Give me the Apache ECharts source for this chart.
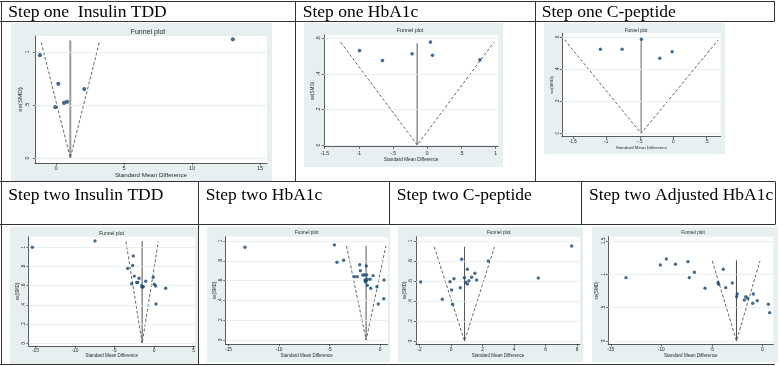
<!DOCTYPE html>
<html><head><meta charset="utf-8">
<script src="https://cdn.jsdelivr.net/npm/echarts@6/dist/echarts.min.js"></script>
<style>html,body{margin:0;padding:0;background:#fff}#c{width:780px;height:366px}</style>
</head><body><div id="c"></div>
<script>
// ---------- headers ----------
const topHeaders = ["Step one  Insulin TDD", "Step one HbA1c", "Step one C-peptide"];
const bottomHeaders = ["Step two Insulin TDD", "Step two HbA1c", "Step two C-peptide", "Step two Adjusted HbA1c"];
const plotTitle = "Funnel plot";
const xName = "Standard Mean Difference";
const yName = "se(SMD)";

// ---------- data: [SMD, se(SMD)] ----------
const p1Points = [[-1.18,0.97],[0.17,0.70],[-0.05,0.48],[0.59,0.52],[0.81,0.53],[2.08,0.65],[13.0,1.12]];
const p1Pooled = [[1.05,0],[1.05,1.11]];
const p1Funnel = [[-1.09,1.09],[1.05,0],[3.18,1.09]];
const p1XTicks = [0,5,10,15];
const p1YTicks = [0,0.5,1];

const p2Points = [[-0.99,0.531],[-0.655,0.475],[-0.222,0.513],[0.047,0.579],[0.077,0.505],[0.77,0.479]];
const p2Pooled = [[-0.148,0],[-0.148,0.573]];
const p2Funnel = [[-1.266,0.578],[-0.146,0],[0.974,0.578]];
const p2XTicks = [-1.5,-1,-0.5,0,0.5,1];
const p2YTicks = [0,0.2,0.4,0.6];

const p3Points = [[-1.089,0.525],[-0.765,0.525],[-0.475,0.5875],[-0.2,0.469],[-0.016,0.51]];
const p3Pooled = [[-0.48,0],[-0.48,0.5875]];
const p3Funnel = [[-1.625,0.584],[-0.48,0],[0.675,0.584]];
const p3XTicks = [-1.5,-1,-0.5,0,0.5];
const p3YTicks = [0,0.2,0.4,0.6];

const p4Points = [[-15.4,1.0],[-7.47,1.066],[-2.62,0.91],[-2.7,0.81],[-3.33,0.78],[-2.49,0.70],[-2.82,0.62],
  [-1.9,0.677],[-2.19,0.633],[-2.06,0.633],[-1.56,0.6],[-1.48,0.583],[-1.35,0.59],[-1.05,0.646],
  [-0.09,0.6875],[0.04,0.615],[0.21,0.597],[1.48,0.573],[0.25,0.41]];
const p4Pooled = [[-1.5,0],[-1.5,1.066]];
const p4Funnel = [[-3.55,1.06],[-1.5,0],[0.55,1.06]];
const p4XTicks = [-15,-10,-5,0,5];
const p4YTicks = [0,0.2,0.4,0.6,0.8,1];

const p5Points = [[-13.37,0.936],[-4.52,0.96],[-4.26,0.785],[-3.6,0.805],[-2.54,0.64],[-2.25,0.64],[-2.01,0.76],
  [-1.95,0.70],[-1.71,0.657],[-1.55,0.657],[-1.36,0.747],[-1.32,0.657],[-1.49,0.606],[-1.36,0.596],
  [-1.29,0.613],[-1.45,0.589],[-1.26,0.553],[-0.99,0.613],[-0.92,0.522],[-0.69,0.65],[-0.3,0.538],
  [-0.17,0.364],[0.4,0.606],[0.37,0.417]];
const p5Pooled = [[-1.38,0],[-1.38,0.95]];
const p5Funnel = [[-3.32,0.95],[-1.37,0],[0.58,0.95]];
const p5XTicks = [-15,-10,-5,0];
const p5YTicks = [0,0.2,0.4,0.6,0.8,1];

const p6Points = [[7.66,0.95],[0.68,0.817],[2.37,0.8],[1.04,0.717],[1.52,0.677],[1.31,0.637],[0.19,0.623],
  [0.85,0.633],[1.63,0.61],[1.14,0.603],[0.93,0.587],[1.04,0.57],[-0.06,0.593],[-1.92,0.59],[5.54,0.63],
  [0.04,0.51],[0.59,0.533],[-0.55,0.417],[0.1,0.367]];
const p6Pooled = [[0.86,0],[0.86,0.943]];
const p6Funnel = [[-1.06,0.94],[0.86,0],[2.76,0.94]];
const p6XTicks = [-2,0,2,4,6,8];
const p6YTicks = [0,0.2,0.4,0.6,0.8,1];

const p7Points = [[-13.5,0.95],[-10.1,1.14],[-9.5,1.23],[-8.6,1.15],[-7.36,1.19],[-6.73,1.03],[-7.23,0.95],
  [-5.67,0.79],[-3.86,1.075],[-4.39,0.875],[-4.32,0.85],[-3.62,0.8],[-2.97,0.87],[-2.48,0.705],[-2.54,0.665],
  [-1.78,0.615],[-1.64,0.665],[-1.45,0.64],[-0.95,0.565],[-0.89,0.705],[-0.5,0.605],[0.6,0.55],[0.73,0.425]];
const p7Pooled = [[-2.56,0],[-2.56,1.21]];
const p7Funnel = [[-4.95,1.2],[-2.56,0],[-0.23,1.2]];
const p7XTicks = [-15,-10,-5,0];
const p7YTicks = [0,0.5,1,1.5];

// ---------- layout (pixels) ----------
const layouts = [
 {bg:[11,23,261,158], plot:[35,36,232,127], x:[-1.544,15.51], y:[-0.047,1.151], fs:5.5, nfs:6.2, tfs:7, title:[148,32],
  xm:2, xg:7, ym:5, yg:11, sym:4.2, vc:'#9a9a9a', vw:2},
 {bg:[304,23,199,144], plot:[324,35,174.3,111.7], x:[-1.51,1.039], y:[-0.0096,0.619], fs:5, nfs:4.7, tfs:5.4, title:[410,30.7],
  xm:4.5, xg:10, ym:2.5, yg:9, sym:3.6, vc:'#555', vw:1},
 {bg:[544,23,181,131], plot:[562,33.3,158.7,103.4], x:[-1.664,0.711], y:[-0.021,0.625], fs:4.6, nfs:4.4, tfs:4.6, title:[636,30.7],
  xm:3, xg:7.8, ym:1.5, yg:8, sym:3.4, vc:'#666', vw:1},
 {bg:[10,227,188,137], plot:[28.6,236.7,166.4,109.3], x:[-15.87,5.19], y:[-0.028,1.11], fs:4.8, nfs:4.5, tfs:5, title:[111.5,233.3],
  xm:1.8, xg:7.5, ym:2.5, yg:8.7, sym:3.4, vc:'#8a8a8a', vw:1.5},
 {bg:[207,227,183,135], plot:[225.5,236.7,162.2,107.3], x:[-15.3,0.76], y:[-0.04,1.043], fs:4.8, nfs:4.5, tfs:4.8, title:[306.7,233],
  xm:3.5, xg:6.7, ym:2.5, yg:8.7, sym:3.4, vc:'#555', vw:1},
 {bg:[398,227,185,135], plot:[416,236.7,164,107.6], x:[-2.22,8.19], y:[-0.033,1.043], fs:4.8, nfs:4.5, tfs:4.8, title:[498.8,233],
  xm:3.2, xg:7.7, ym:2.5, yg:8.7, sym:3.4, vc:'#555', vw:1},
 {bg:[592,227,186,135], plot:[608.3,236.7,165,107.6], x:[-15.25,1.09], y:[-0.05,1.564], fs:4.8, nfs:4.6, tfs:4.8, title:[693,233],
  xm:3.2, xg:7.4, ym:2.5, yg:8.7, sym:3.4, vc:'#444', vw:1}
];

const panels = [
 {pts:p1Points, pooled:p1Pooled, funnel:p1Funnel, xt:p1XTicks, yt:p1YTicks},
 {pts:p2Points, pooled:p2Pooled, funnel:p2Funnel, xt:p2XTicks, yt:p2YTicks},
 {pts:p3Points, pooled:p3Pooled, funnel:p3Funnel, xt:p3XTicks, yt:p3YTicks},
 {pts:p4Points, pooled:p4Pooled, funnel:p4Funnel, xt:p4XTicks, yt:p4YTicks},
 {pts:p5Points, pooled:p5Pooled, funnel:p5Funnel, xt:p5XTicks, yt:p5YTicks},
 {pts:p6Points, pooled:p6Pooled, funnel:p6Funnel, xt:p6XTicks, yt:p6YTicks},
 {pts:p7Points, pooled:p7Pooled, funnel:p7Funnel, xt:p7XTicks, yt:p7YTicks}
];

function fmt(v){ return String(v).replace(/^(-?)0\./,'$1.'); }
const SANS = 'Liberation Sans, Arial, sans-serif';
const SERIF = 'Liberation Serif, Times New Roman, serif';
const INK = '#2a2a2a';

const grids=[], xAxes=[], yAxes=[], series=[], graphics=[];

panels.forEach((p,i)=>{
  const L = layouts[i];
  graphics.push({type:'rect', z:-20, silent:true, shape:{x:L.bg[0],y:L.bg[1],width:L.bg[2],height:L.bg[3]}, style:{fill:'#e7eff1'}});
  graphics.push({type:'rect', z:-19, silent:true, shape:{x:L.plot[0],y:L.plot[1],width:L.plot[2],height:L.plot[3]}, style:{fill:'#ffffff'}});
  graphics.push({type:'text', z:5, silent:true, x:L.title[0], y:L.title[1],
    style:{text:plotTitle, font:`${L.tfs}px ${SANS}`, fill:INK, align:'center', verticalAlign:'middle'}});

  grids.push({left:L.plot[0], top:L.plot[1], width:L.plot[2], height:L.plot[3], show:false});
  xAxes.push({type:'value', gridIndex:i, min:L.x[0], max:L.x[1],
    axisLine:{show:true, onZero:false, lineStyle:{color:'#333', width:0.8}},
    axisTick:{show:true, length:2.2, customValues:p.xt, lineStyle:{color:'#333', width:0.7}},
    axisLabel:{show:true, customValues:p.xt, formatter:fmt, fontSize:L.fs, fontFamily:SANS, color:INK, margin:L.xm},
    splitLine:{show:false},
    name:xName, nameLocation:'middle', nameGap:L.xg, nameTextStyle:{fontSize:L.nfs, fontFamily:SANS, color:INK}});
  yAxes.push({type:'value', gridIndex:i, min:L.y[0], max:L.y[1],
    axisLine:{show:true, onZero:false, lineStyle:{color:'#333', width:0.8}},
    axisTick:{show:true, length:2.2, customValues:p.yt, lineStyle:{color:'#333', width:0.7}},
    axisLabel:{show:true, customValues:p.yt, formatter:fmt, rotate:90, fontSize:L.fs, fontFamily:SANS, color:INK, margin:L.ym},
    splitLine:{show:false},
    name:yName, nameLocation:'middle', nameGap:L.yg, nameTextStyle:{fontSize:L.nfs, fontFamily:SANS, color:INK}});

  series.push({type:'scatter', xAxisIndex:i, yAxisIndex:i, data:p.pts, symbol:'circle', symbolSize:L.sym,
    itemStyle:{color:'#1a476f'}, z:5, silent:true,
    markLine:{silent:true, symbol:['none','none'], label:{show:false}, animation:false,
      lineStyle:{color:'#e4edf0', width:0.8, type:'solid'},
      data:p.yt.map(v=>({yAxis:v}))}});
  series.push({type:'line', xAxisIndex:i, yAxisIndex:i, data:p.pooled, showSymbol:false, symbol:'none', silent:true, z:3,
    lineStyle:{color:L.vc, width:L.vw}});
  series.push({type:'line', xAxisIndex:i, yAxisIndex:i, data:p.funnel, showSymbol:false, symbol:'none', silent:true, z:4,
    lineStyle:{color:'#555', width:0.9, type:[3,2]}});
});

// ---------- table frame ----------
const lines = [
  [0,1.5,774,1.5],[0,21.5,774,21.5],
  [1.5,1,1.5,365],[295.5,1,295.5,181.5],[535.5,1,535.5,181.5],[774.5,1,774.5,21.5],
  [0,181.5,775,181.5],[0,224.5,775,224.5],
  [198.5,181.5,198.5,364.5],[389.5,181.5,389.5,224.5],[581.5,181.5,581.5,224.5],[775.5,181.5,775.5,224.5],
  [0,364.5,775,364.5]
];
lines.forEach(l=>graphics.push({type:'line', z:10, silent:true, shape:{x1:l[0],y1:l[1],x2:l[2],y2:l[3]}, style:{stroke:'#333', lineWidth:1}}));
const topX = [8.3, 302.7, 541.7];
topHeaders.forEach((t,i)=>graphics.push({type:'text', z:8, silent:true, x:topX[i], y:3,
  style:{text:t, font:`17.5px ${SERIF}`, fill:'#000', align:'left', verticalAlign:'top'}}));
const botX = [8.3, 205.7, 396.7, 589];
bottomHeaders.forEach((t,i)=>graphics.push({type:'text', z:8, silent:true, x:botX[i], y:186,
  style:{text:t, font:`17.5px ${SERIF}`, fill:'#000', align:'left', verticalAlign:'top'}}));
graphics.push({type:'rect', z:9, silent:true, shape:{x:776,y:182,width:4,height:42}, style:{fill:'#fff'}});

const chart = echarts.init(document.getElementById('c'), null, {renderer:'canvas', width:780, height:366});
chart.setOption({
  animation:false,
  backgroundColor:'#ffffff',
  grid:grids, xAxis:xAxes, yAxis:yAxes, series:series,
  graphic:{elements:graphics}
});
</script>
</body></html>
